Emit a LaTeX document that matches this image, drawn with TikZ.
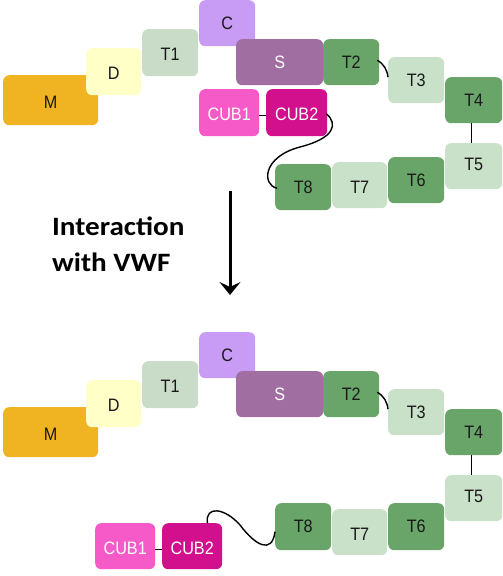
\documentclass[tikz,border=0pt]{standalone}
\usepackage{fontspec}
\setmainfont{Liberation Sans}
\newfontfamily\lblfont[FakeStretch=0.9]{Liberation Sans}
\newfontfamily\titlefont[FakeStretch=1.1]{Carlito}
\usetikzlibrary{arrows.meta,calc}
\definecolor{cM}{RGB}{240,180,35}
\definecolor{cD}{RGB}{255,255,200}
\definecolor{cT1}{RGB}{200,220,200}
\definecolor{cC}{RGB}{200,155,245}
\definecolor{cS}{RGB}{160,110,160}
\definecolor{cDark}{RGB}{105,165,105}
\definecolor{cLight}{RGB}{200,225,200}
\definecolor{cCUBa}{RGB}{245,90,200}
\definecolor{cCUBb}{RGB}{210,15,140}
\definecolor{cTxt}{RGB}{25,25,25}
\newcommand\lbl[1]{\raisebox{-2pt}[\height][\depth]{#1}}
\tikzset{
  box/.style={rounded corners=6pt, inner sep=0pt, anchor=north west, text=cTxt,
    font=\lblfont\fontsize{18}{18}\selectfont},
  wh/.style 2 args={minimum width=#1pt, minimum height=#2pt},
  link/.style={line width=1.4pt, black},
  ttl/.style={anchor=base west, inner sep=0pt, font=\titlefont\bfseries\fontsize{26.5}{30}\selectfont},
}
\begin{document}
\begin{tikzpicture}[x=1pt,y=-1pt]
\useasboundingbox (0,0) rectangle (503,576);
% ---------- top ----------
\node[box, fill=cM, wh={95}{50}] (M) at (3,75) {\lbl{M}};
\node[box, fill=cD, wh={55}{47}] (D) at (86,48) {\lbl{D}};
\node[box, fill=cT1, wh={56}{47}] (T1) at (142,29) {\lbl{T1}};
\node[box, fill=cC, wh={56}{46}] (C) at (199,0) {C};
\node[box, fill=cS, wh={87}{46}, text=white] (S) at (236,39) {S};
\node[box, fill=cDark, wh={56}{46}] (T2) at (323,39) {T2};
\node[box, fill=cLight, wh={56}{46}] (T3) at (388,57) {T3};
\node[box, fill=cDark, wh={57}{46}] (T4) at (445,77) {T4};
\node[box, fill=cLight, wh={57}{46}] (T5) at (445,143) {\raisebox{2pt}[\height][\depth]{T5}};
\node[box, fill=cDark, wh={56}{46}] (T6) at (388,157) {T6};
\node[box, fill=cLight, wh={55}{46}] (T7) at (332,162) {\lbl{T7}};
\node[box, fill=cDark, wh={56}{46}] (T8) at (275,164) {T8};
\node[box, fill=cCUBa, wh={60}{47}, text=white] (CUBa) at (199,89) {\lbl{CUB1}};
\node[box, fill=cCUBb, wh={61}{47}, text=white] (CUBb) at (266,89) {\lbl{CUB2}};
\draw[link] ($(T2.east)+(-2,-2)$) to[bend left=25] ($(T3.west)+(0,-3)$);
\draw[link] ($(T4.south)+(-2,0)$) -- ($(T5.north)+(-2,0)$);
\draw[link] ($(CUBa.east)+(0,3)$) -- ($(CUBb.west)+(0,3)$);
\draw[link] ($(CUBb.east)+(-1,1)$) .. controls (338,124) and (335,138) .. (300,147)
  .. controls (262,157) and (262,185) .. ($(T8.west)+(2,1)$);
% ---------- middle ----------
\node[ttl] (title1) at (52,235) {Interaction};
\node[ttl] (title2) at (52,271) {with VWF};
\coordinate (arrtop) at (230,191);
\coordinate (arrbot) at (230,295);
\draw[line width=3pt, -{Stealth[length=13pt,width=21pt,inset=5pt]}] (arrtop) -- (arrbot);
% ---------- bottom ----------
\node[box, fill=cM, wh={95}{50}] (M2) at (3,407) {\lbl{M}};
\node[box, fill=cD, wh={55}{47}] (D2) at (86,380) {\lbl{D}};
\node[box, fill=cT1, wh={56}{47}] (T12) at (142,361) {\lbl{T1}};
\node[box, fill=cC, wh={56}{46}] (C2) at (199,332) {C};
\node[box, fill=cS, wh={87}{46}, text=white] (S2) at (236,371) {S};
\node[box, fill=cDark, wh={56}{46}] (T22) at (323,371) {T2};
\node[box, fill=cLight, wh={56}{46}] (T32) at (388,389) {T3};
\node[box, fill=cDark, wh={57}{46}] (T42) at (445,409) {T4};
\node[box, fill=cLight, wh={57}{46}] (T52) at (445,475) {\raisebox{2pt}[\height][\depth]{T5}};
\node[box, fill=cDark, wh={56}{47}] (T62) at (388,503) {T6};
\node[box, fill=cLight, wh={55}{46}] (T72) at (332,509) {\lbl{T7}};
\node[box, fill=cDark, wh={56}{47}] (T82) at (275,503) {T8};
\node[box, fill=cCUBa, wh={60}{46}, text=white] (CUBa2) at (95,523) {\lbl{CUB1}};
\node[box, fill=cCUBb, wh={60}{46}, text=white] (CUBb2) at (162,523) {\lbl{CUB2}};
\draw[link] ($(T22.east)+(-2,-2)$) to[bend left=25] ($(T32.west)+(0,-3)$);
\draw[link] ($(T42.south)+(-2,0)$) -- ($(T52.north)+(-2,0)$);
\draw[link] ($(CUBa2.east)+(0,3)$) -- ($(CUBb2.west)+(0,3)$);
\draw[link] ($(CUBb2.north east)+(-15,0)$) .. controls (205,505) and (225,508) .. (240,525)
  .. controls (255,545) and (272,555) .. ($(T82.west)+(0,5)$);
\end{tikzpicture}
\end{document}
